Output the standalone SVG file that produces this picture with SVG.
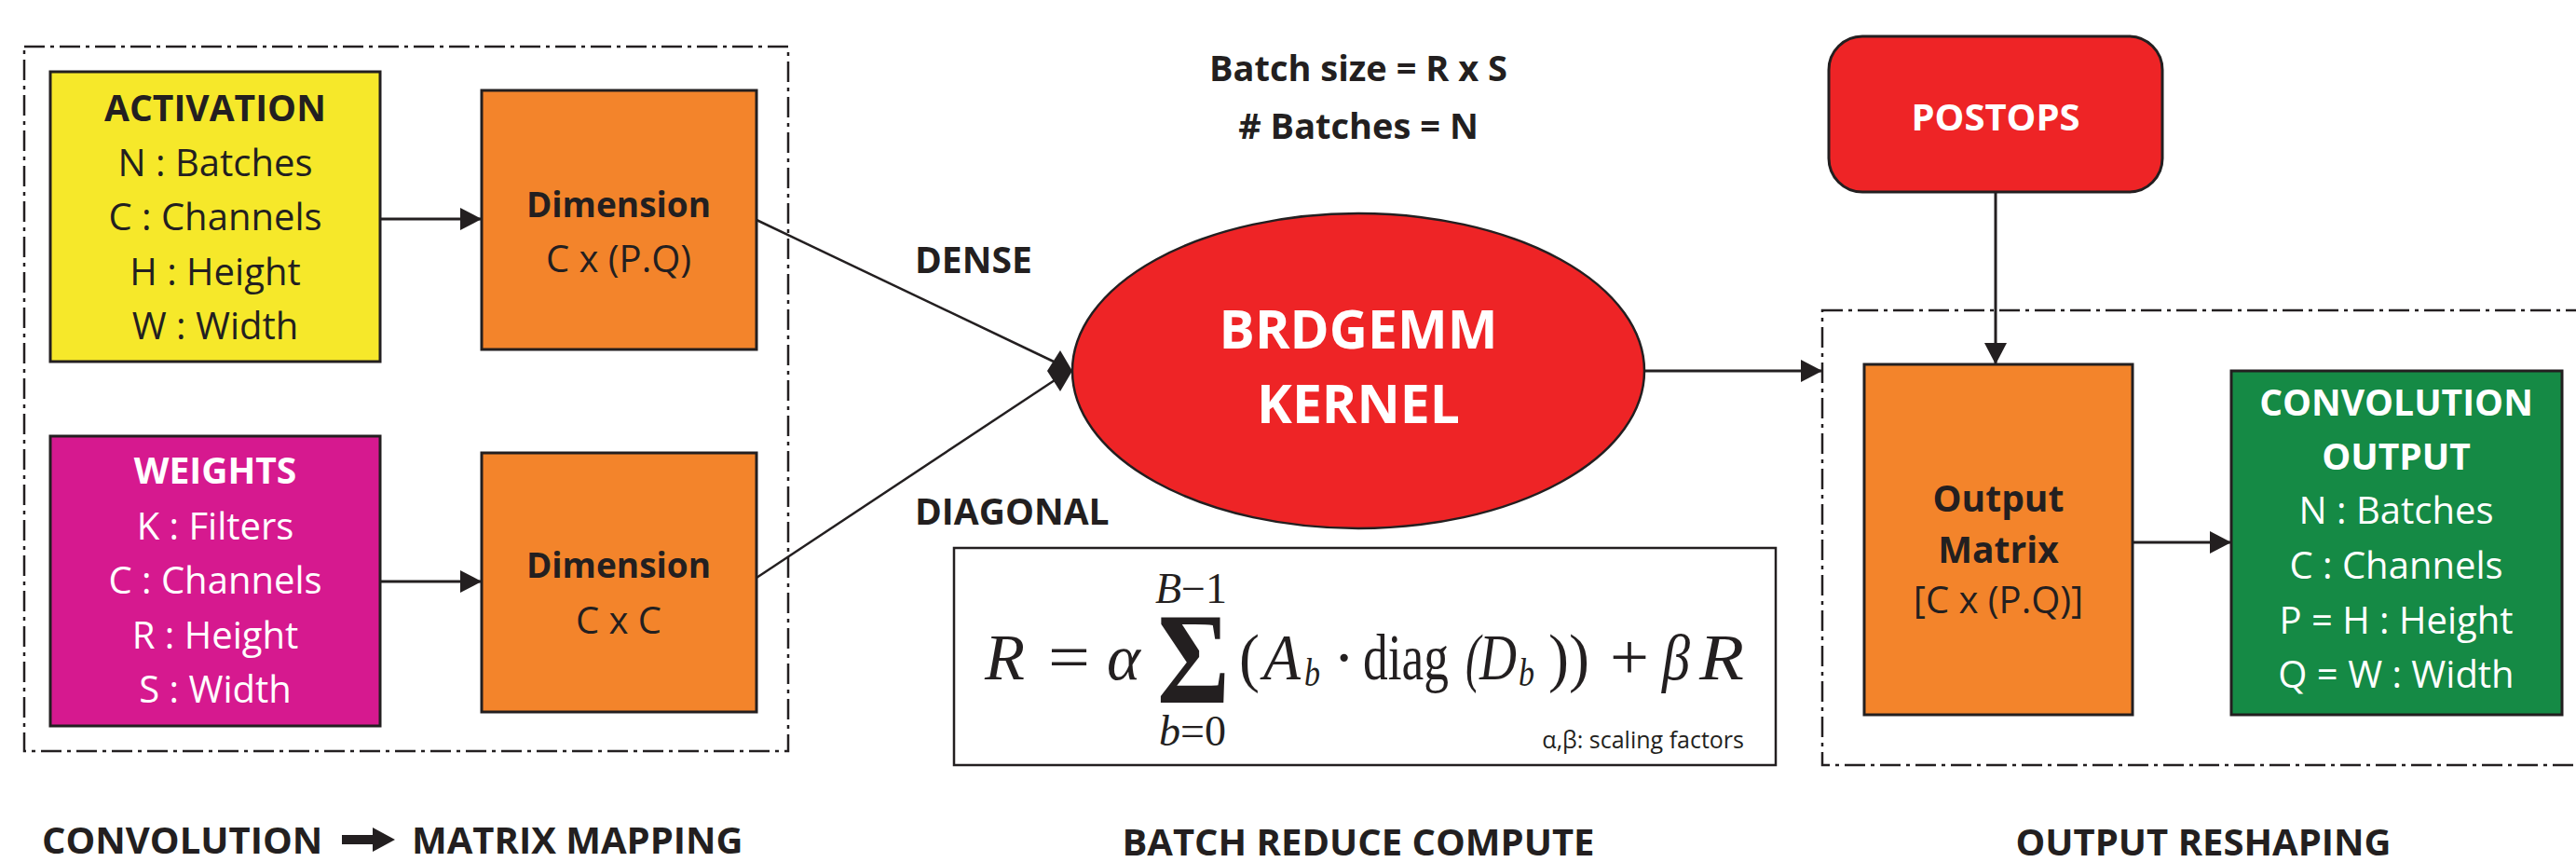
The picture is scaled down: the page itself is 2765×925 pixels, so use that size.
<svg xmlns="http://www.w3.org/2000/svg" width="2765" height="925" viewBox="0 0 2765 925">
<style>
  .box{stroke:#231f20;stroke-width:3}
  .dash{fill:none;stroke:#231f20;stroke-width:2.5;stroke-dasharray:22 6 4 6}
  .t{font-family:"Open Sans","Liberation Sans",sans-serif;text-anchor:middle;fill:#231f20}
  .r{font-size:40px}
  .b{font-size:39px;font-weight:700}
  .w{fill:#ffffff}
  .ln{stroke:#231f20;stroke-width:2.5;fill:none}
  .ar{stroke:#231f20;stroke-width:3;fill:none;marker-end:url(#ah)}
  .m{font-family:"Liberation Serif","Times New Roman",serif;fill:#231f20}
  .i{font-style:italic}
</style>
<defs>
  <marker id="ah" markerUnits="userSpaceOnUse" markerWidth="24" markerHeight="26" refX="23" refY="12" orient="auto">
    <path d="M0,0 L23,12 L0,24 z" fill="#231f20"/>
  </marker>
</defs>
<rect width="2765" height="925" fill="#ffffff"/>

<g id="region-left"><rect class="dash" x="26" y="50" width="820" height="756"/></g>
<g id="region-right"><rect class="dash" x="1956" y="333" width="900" height="488"/></g>

<g id="connectors">
  <line class="ar" x1="409" y1="235" x2="517" y2="235"/>
  <line class="ar" x1="409" y1="624" x2="517" y2="624"/>
  <line class="ln" x1="812" y1="236" x2="1131" y2="388"/>
  <line class="ln" x1="812" y1="620" x2="1132" y2="408"/>
  <polygon points="1124,398 1138,376 1151,398 1138,420" fill="#231f20"/>
  <line class="ar" x1="1765" y1="398" x2="1956" y2="398"/>
  <line class="ar" x1="2142" y1="206" x2="2142" y2="391"/>
  <line class="ar" x1="2289" y1="582" x2="2395" y2="582"/>
</g>

<g id="activation">
  <rect class="box" x="54" y="77" width="354" height="311" fill="#f6e82a"/>
  <text class="t b" x="231" y="130">ACTIVATION</text>
  <text class="t r" x="231" y="189">N : Batches</text>
  <text class="t r" x="231" y="247">C : Channels</text>
  <text class="t r" x="231" y="306">H : Height</text>
  <text class="t r" x="231" y="364">W : Width</text>
</g>

<g id="weights">
  <rect class="box" x="54" y="468" width="354" height="311" fill="#d6198f"/>
  <text class="t b w" x="231" y="519">WEIGHTS</text>
  <text class="t r w" x="231" y="579">K : Filters</text>
  <text class="t r w" x="231" y="637">C : Channels</text>
  <text class="t r w" x="231" y="696">R : Height</text>
  <text class="t r w" x="231" y="754">S : Width</text>
</g>

<g id="dimension-dense">
  <rect class="box" x="517" y="97" width="295" height="278" fill="#f3842b"/>
  <text class="t b" x="664" y="233" style="font-size:37px">Dimension</text>
  <text class="t r" x="664" y="292">C x (P.Q)</text>
</g>

<g id="dimension-diagonal">
  <rect class="box" x="517" y="486" width="295" height="278" fill="#f3842b"/>
  <text class="t b" x="664" y="620" style="font-size:37px">Dimension</text>
  <text class="t r" x="664" y="680">C x C</text>
</g>

<g id="batch-info">
  <text class="t b" x="1458" y="87" style="font-size:38px">Batch size = R x S</text>
  <text class="t b" x="1458" y="149" style="font-size:38px">#  Batches = N</text>
</g>

<g id="label-dense"><text class="t b" x="982" y="293" style="text-anchor:start">DENSE</text></g>
<g id="label-diagonal"><text class="t b" x="982" y="563" style="text-anchor:start">DIAGONAL</text></g>

<g id="brdgemm-kernel">
  <ellipse cx="1458" cy="398" rx="307" ry="169" fill="#ee2426" stroke="#231f20" stroke-width="2.5"/>
  <text class="t w" x="1458" y="374" style="font-size:57px;font-weight:700">BRDGEMM</text>
  <text class="t w" x="1458" y="454" style="font-size:57px;font-weight:700">KERNEL</text>
</g>

<g id="formula">
  <rect x="1024" y="588" width="882" height="233" fill="#ffffff" stroke="#231f20" stroke-width="2.5"/>
  <text class="m i" x="1057" y="729" font-size="70" textLength="43" lengthAdjust="spacingAndGlyphs">R</text>
  <text class="m" x="1125" y="729" font-size="70" textLength="45" lengthAdjust="spacingAndGlyphs">=</text>
  <text class="m i" x="1188" y="729" font-size="70" textLength="36" lengthAdjust="spacingAndGlyphs">α</text>
  <text class="m" x="1242" y="754" font-size="140" font-weight="700" textLength="78" lengthAdjust="spacingAndGlyphs">Σ</text>
  <text class="m i" x="1240" y="647" font-size="46">B<tspan font-style="normal">−1</tspan></text>
  <text class="m i" x="1244" y="800" font-size="46">b<tspan font-style="normal">=0</tspan></text>
  <text class="m" x="1330" y="729" font-size="70" textLength="22" lengthAdjust="spacingAndGlyphs">(</text>
  <text class="m i" x="1356" y="729" font-size="70" textLength="40" lengthAdjust="spacingAndGlyphs">A</text>
  <text class="m i" x="1400" y="736" font-size="42" textLength="17" lengthAdjust="spacingAndGlyphs">b</text>
  <text class="m" x="1431" y="729" font-size="70">·</text>
  <text class="m" x="1463" y="729" font-size="70" textLength="92" lengthAdjust="spacingAndGlyphs">diag</text>
  <text class="m i" x="1573" y="729" font-size="70" textLength="16" lengthAdjust="spacingAndGlyphs">(</text>
  <text class="m i" x="1588" y="729" font-size="70" textLength="40" lengthAdjust="spacingAndGlyphs">D</text>
  <text class="m i" x="1630" y="736" font-size="42" textLength="17" lengthAdjust="spacingAndGlyphs">b</text>
  <text class="m" x="1662" y="729" font-size="70" textLength="44" lengthAdjust="spacingAndGlyphs">))</text>
  <text class="m" x="1728" y="729" font-size="70" textLength="42" lengthAdjust="spacingAndGlyphs">+</text>
  <text class="m i" x="1784" y="729" font-size="70" textLength="30" lengthAdjust="spacingAndGlyphs">β</text>
  <text class="m i" x="1824" y="729" font-size="70" textLength="48" lengthAdjust="spacingAndGlyphs">R</text>
  <text class="t" x="1872" y="803" style="text-anchor:end;font-size:25px">α,β: scaling factors</text>
</g>

<g id="postops">
  <rect class="box" x="1963" y="39" width="358" height="167" rx="36" fill="#ee2426"/>
  <text class="t w" x="2142" y="140" style="font-size:40px;font-weight:700">POSTOPS</text>
</g>

<g id="output-matrix">
  <rect class="box" x="2001" y="391" width="288" height="376" fill="#f3842b"/>
  <text class="t b" x="2145" y="549">Output</text>
  <text class="t b" x="2145" y="604">Matrix</text>
  <text class="t r" x="2145" y="658">[C x (P.Q)]</text>
</g>

<g id="convolution-output">
  <rect class="box" x="2395" y="398" width="355" height="369" fill="#158a45"/>
  <text class="t b w" x="2572" y="446">CONVOLUTION</text>
  <text class="t b w" x="2572" y="504">OUTPUT</text>
  <text class="t r w" x="2572" y="562">N : Batches</text>
  <text class="t r w" x="2572" y="621">C : Channels</text>
  <text class="t r w" x="2572" y="680">P = H : Height</text>
  <text class="t r w" x="2572" y="738">Q = W : Width</text>
</g>

<g id="captions">
  <text class="t b" x="45" y="916" style="text-anchor:start;font-size:40px">CONVOLUTION</text>
  <polygon points="367,896 400,896 400,888 424,901 400,914 400,906 367,906" fill="#231f20"/>
  <text class="t b" x="442" y="916" style="text-anchor:start;font-size:40px">MATRIX MAPPING</text>
  <text class="t b" x="1458" y="918" style="font-size:40px">BATCH REDUCE COMPUTE</text>
  <text class="t b" x="2365" y="918" style="font-size:40px">OUTPUT RESHAPING</text>
</g>
</svg>
